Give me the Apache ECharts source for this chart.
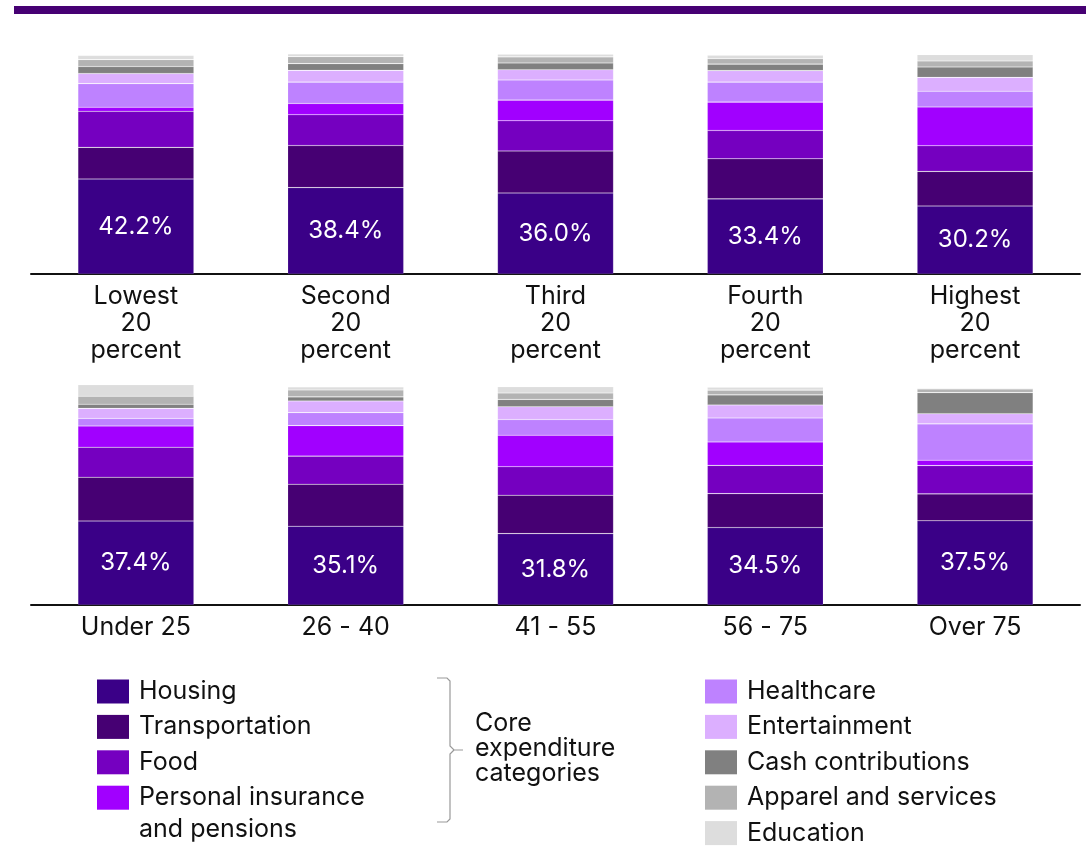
<!DOCTYPE html>
<html>
<head>
<meta charset="utf-8">
<script src="https://cdn.jsdelivr.net/npm/echarts@6/dist/echarts.min.js"></script>
<style>
html, body { margin: 0; padding: 0; background: #fff; }
#chart { width: 1086px; height: 846px; }
</style>
</head>
<body>
<div id="chart"></div>
<script>
// categories
var incomeGroups = ['Lowest 20 percent', 'Second 20 percent', 'Third 20 percent', 'Fourth 20 percent', 'Highest 20 percent'];
var ageGroups = ['Under 25', '26 - 40', '41 - 55', '56 - 75', 'Over 75'];

var seriesNames = ['Housing', 'Transportation', 'Food', 'Personal insurance and pensions',
    'Healthcare', 'Entertainment', 'Cash contributions', 'Apparel and services', 'Education'];
var colors = ['#3a0087', '#460073', '#7500c0', '#a100ff', '#be82ff', '#dcafff', '#808080', '#b3b3b3', '#dddddd'];

// share of spending (%), by income quintile
var housingIncome       = [42.2, 38.4, 36.0, 33.4, 30.2];
var transportIncome     = [14.1, 18.7, 18.7, 17.8, 15.4];
var foodIncome          = [16.0, 13.7, 13.4, 12.6, 11.4];
var insuranceIncome     = [1.8, 5.0, 9.2, 12.6, 17.2];
var healthIncome        = [10.5, 9.5, 8.9, 8.9, 7.0];
var entertainmentIncome = [4.5, 5.2, 4.6, 5.1, 6.2];
var cashIncome          = [3.1, 3.0, 3.0, 2.9, 4.6];
var apparelIncome       = [3.1, 3.1, 2.7, 2.4, 2.7];
var educationIncome     = [1.8, 1.2, 1.2, 1.5, 2.8];

// share of spending (%), by age group
var housingAge       = [37.4, 35.1, 31.8, 34.5, 37.5];
var transportAge     = [19.5, 18.7, 17.1, 15.1, 12.0];
var foodAge          = [13.4, 12.5, 12.7, 12.6, 12.6];
var insuranceAge     = [9.4, 13.6, 14.0, 10.4, 2.4];
var healthAge        = [3.4, 5.8, 7.0, 10.7, 16.2];
var entertainmentAge = [4.5, 5.2, 5.7, 5.8, 4.5];
var cashAge          = [1.8, 1.8, 3.3, 4.5, 9.4];
var apparelAge       = [3.6, 3.1, 2.8, 2.1, 1.6];
var educationAge     = [5.1, 1.3, 2.8, 1.3, 0.4];

var incomeData = [housingIncome, transportIncome, foodIncome, insuranceIncome, healthIncome,
    entertainmentIncome, cashIncome, apparelIncome, educationIncome];
var ageData = [housingAge, transportAge, foodAge, insuranceAge, healthAge,
    entertainmentAge, cashAge, apparelAge, educationAge];

var FONT = 'Inter';

function makeSeries(data, idx) {
    var list = [];
    for (var i = 0; i < seriesNames.length; i++) {
        var s = {
            name: seriesNames[i],
            type: 'bar',
            stack: 'panel' + idx,
            xAxisIndex: idx,
            yAxisIndex: idx,
            barWidth: 116,
            data: data[i],
            itemStyle: {
                color: colors[i],
                borderColor: 'rgba(255,255,255,0.22)',
                borderWidth: 0.6
            }
        };
        if (i === 0) {
            s.label = {
                show: true,
                position: 'inside',
                color: '#fff',
                fontFamily: FONT,
                fontSize: 24,
                formatter: function (p) { return p.value.toFixed(1) + '%'; }
            };
        }
        list.push(s);
    }
    return list;
}

var xAxisBase = function (cats, idx, fmt) {
    return {
        type: 'category',
        gridIndex: idx,
        data: cats,
        axisTick: { show: false },
        axisLine: { lineStyle: { color: '#111', width: 2 } },
        axisLabel: {
            color: '#111',
            fontFamily: FONT,
            fontSize: 25,
            lineHeight: 27,
            margin: 9,
            interval: 0,
            formatter: fmt
        }
    };
};

var yAxisBase = function (idx) {
    return {
        type: 'value',
        gridIndex: idx,
        min: 0,
        max: 100,
        show: false,
        splitLine: { show: false }
    };
};

var legendText = {
    color: '#111',
    fontFamily: FONT,
    fontSize: 25,
    lineHeight: 31,
    padding: [0, 0, 0, 5]
};

var option = {
    backgroundColor: '#fff',
    animation: false,
    grid: [
        { left: 31, right: 6, top: 49, bottom: 572 },
        { left: 31, right: 6, top: 380.5, bottom: 241 }
    ],
    xAxis: [
        xAxisBase(incomeGroups, 0, function (v) { return v.split(' ').join('\n'); }),
        xAxisBase(ageGroups, 1, null)
    ],
    yAxis: [yAxisBase(0), yAxisBase(1)],
    legend: [
        {
            orient: 'vertical',
            left: 97,
            top: 676,
            height: 300,
            padding: 0,
            icon: 'rect',
            itemWidth: 32,
            itemHeight: 24,
            itemGap: 4.4,
            itemStyle: { borderWidth: 0 },
            textStyle: legendText,
            data: seriesNames.slice(0, 4),
            formatter: function (n) { return n === seriesNames[3] ? 'Personal insurance' : n; }
        },
        {
            orient: 'vertical',
            left: 705,
            top: 676,
            height: 300,
            padding: 0,
            icon: 'rect',
            itemWidth: 32,
            itemHeight: 24,
            itemGap: 4.4,
            itemStyle: { borderWidth: 0 },
            textStyle: legendText,
            data: seriesNames.slice(4)
        }
    ],
    graphic: [
        {
            type: 'rect',
            shape: { x: 14, y: 6, width: 1072, height: 8 },
            style: { fill: '#460073' }
        },
        {
            // second line of the "Personal insurance and pensions" legend entry
            type: 'text',
            x: 139,
            y: 829,
            style: {
                text: 'and pensions',
                fill: '#111',
                font: '25px ' + FONT,
                verticalAlign: 'middle'
            }
        },
        {
            type: 'polyline',
            shape: { points: [[437, 678], [447, 678], [450, 681], [450, 746], [454, 750], [463, 750]] },
            style: { fill: null, stroke: '#999', lineWidth: 1.2 }
        },
        {
            type: 'polyline',
            shape: { points: [[454, 750], [450, 754], [450, 819], [447, 822], [437, 822]] },
            style: { fill: null, stroke: '#999', lineWidth: 1.2 }
        },
        {
            type: 'text',
            left: 475,
            top: 711,
            style: {
                text: 'Core\nexpenditure\ncategories',
                fill: '#111',
                font: '25px ' + FONT,
                lineHeight: 25
            }
        }
    ],
    series: makeSeries(incomeData, 0).concat(makeSeries(ageData, 1))
};

var myChart = echarts.init(document.getElementById('chart'));
myChart.setOption(option);
</script>
</body>
</html>
